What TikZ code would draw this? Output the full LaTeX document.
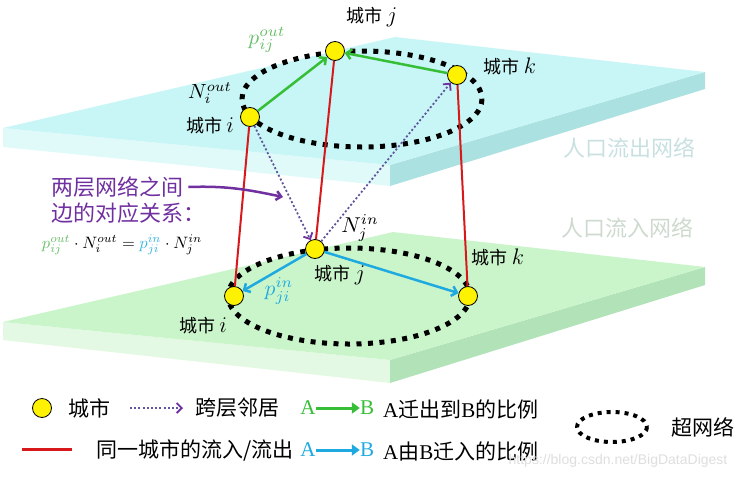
\RequirePackage{fix-cm}
\documentclass[tikz,border=0pt]{standalone}
\usepackage{fontspec}
\setmainfont{Liberation Serif}
\newfontfamily\cjk{Noto Sans CJK SC}
\newfontfamily\wm{Liberation Sans}
\usetikzlibrary{arrows.meta}
\newcommand{\mathlbl}[2]{\scalebox{#1}{$#2$}}
\definecolor{topc}{RGB}{200,246,246}
\definecolor{topside}{RGB}{172,225,225}
\definecolor{topfront}{RGB}{224,249,249}
\definecolor{botc}{RGB}{202,245,202}
\definecolor{botside}{RGB}{178,226,183}
\definecolor{botfront}{RGB}{228,249,228}
\definecolor{cityred}{RGB}{215,25,28}
\definecolor{outgreen}{RGB}{55,190,55}
\definecolor{inblue}{RGB}{30,170,225}
\definecolor{nbpurple}{RGB}{112,48,160}
\definecolor{nbline}{RGB}{95,85,155}
\definecolor{layertxt}{RGB}{200,224,224}
\definecolor{layertxtb}{RGB}{205,218,205}
\definecolor{fgreen}{RGB}{105,190,105}
\definecolor{fblue}{RGB}{55,180,225}
\tikzset{
  city/.style={circle, draw=black, line width=0.8pt, fill=yellow, minimum size=19pt, inner sep=0pt},
  hyper/.style={draw=black, line width=5pt, dash pattern=on 5pt off 6.5pt},
  same/.style={draw=cityred, line width=2pt},
  outarr/.style={draw=outgreen, line width=2.5pt, -{Straight Barb[length=5pt,width=10pt]}},
  inarr/.style={draw=inblue, line width=2.5pt, -{Straight Barb[length=5pt,width=10pt]}},
  nb/.style={draw=nbline, line width=1.8pt, dash pattern=on 2pt off 2.2pt, -{Straight Barb[color=nbpurple,length=5pt,width=10pt]}},
  lbl/.style={font=\cjk\fontsize{18}{20}\selectfont, inner sep=0pt},
  mlbl/.style={inner sep=0pt},
  layer/.style={font=\cjk\fontsize{22}{24}\selectfont, inner sep=0pt},
  ann/.style={font=\cjk\fontsize{22}{24}\selectfont, text=nbpurple, inner sep=0pt, anchor=west},
  leg/.style={font=\cjk\fontsize{21}{23}\selectfont, inner sep=0pt},
  legab/.style={font=\fontsize{21}{23}\selectfont, inner sep=0pt},
  legout/.style={draw=outgreen, line width=3pt, -{Triangle[length=8pt,width=11pt]}},
  legin/.style={draw=inblue, line width=3pt, -{Triangle[length=8pt,width=11pt]}},
}
\begin{document}
\begin{tikzpicture}[x=1pt,y=-1pt]
\useasboundingbox (0,0) rectangle (751,479);
% ---- bottom plane (population inflow)
\fill[botfront] (3,322) -- (390,360) -- (390,383) -- (3,340) -- cycle;
\fill[botside] (390,360) -- (705,267) -- (705,285) -- (390,383) -- cycle;
\fill[botc] (3,322) -- (393,232) -- (705,267) -- (390,360) -- cycle;
% ---- top plane (population outflow)
\fill[topfront] (3,128) -- (390,165) -- (390,186) -- (3,147) -- cycle;
\fill[topside] (390,165) -- (705,72) -- (705,89) -- (390,186) -- cycle;
\fill[topc] (3,128) -- (395,37) -- (705,72) -- (390,165) -- cycle;
% layer names
\node[layer, text=layertxt] (lout) at (629,148) {人口流出网络};
\node[layer, text=layertxtb] (lin) at (627,228) {人口流入网络};
% hypernetworks
\draw[hyper] (362,99) ellipse [x radius=120, y radius=48];
\draw[hyper] (349,296) ellipse [x radius=121, y radius=48];
% cities
\node[city] (ti) at (250,117) {};
\node[city] (tj) at (335,51) {};
\node[city] (tk) at (457,75) {};
\node[city] (bj) at (315,249) {};
\node[city] (bi) at (234,296) {};
\node[city] (bk) at (468,296) {};
% same-city links
\draw[same] (ti) -- (bi);
\draw[same] (tj) -- (bj);
\draw[same] (tk) -- (bk);
% cross-layer neighbours
\draw[nb] (ti) -- (bj);
\draw[nb] (bj) -- (tk);
% out / in ratios
\draw[outarr] (ti) -- (tj);
\draw[outarr] (tk) -- (tj);
\draw[inarr] (bj) -- (bi);
\draw[inarr] (bj) -- (bk);
% labels
\node[lbl] (ltj) at (372,17) {城市 \mathlbl{1.25}{j}};
\node[lbl] (lti) at (210,126) {城市 \mathlbl{1.25}{i}};
\node[lbl] (ltk) at (510,66) {城市 \mathlbl{1.25}{k}};
\node[lbl] (lbj) at (340,275) {城市 \mathlbl{1.25}{j}};
\node[lbl] (lbi) at (203,326) {城市 \mathlbl{1.25}{i}};
\node[lbl] (lbk) at (498,257) {城市 \mathlbl{1.25}{k}};
\node[mlbl, text=fgreen] (pout) at (267,40) {\mathlbl{2.15}{p_{ij}^{out}}};
\node[mlbl] (nout) at (210,93) {\mathlbl{2.05}{N_i^{out}}};
\node[mlbl] (nin) at (360,228) {\mathlbl{2.15}{N_j^{in}}};
\node[mlbl, text=inblue] (pin) at (279,291) {\mathlbl{2.15}{p_{ji}^{in}}};
% annotation
\node[ann] (ann1) at (51,187) {两层网络之间};
\node[ann] (ann2) at (51,213) {边的对应关系：};
\coordinate (annTip) at (283,197);
\draw[draw=nbpurple, line width=2.5pt, -{Straight Barb[length=5pt,width=9pt]}] (ann1.east) ++(5,0) to[out=2,in=168] (annTip);
\node[inner sep=0pt] (formula) at (122,245)
  {\mathlbl{1.65}{\textcolor{fgreen}{p_{ij}^{out}}\cdot N_i^{out}=\textcolor{fblue}{p_{ji}^{in}}\cdot N_j^{in}}};
% ---- legend
\node[city] (lgcity) at (42,408) {};
\node[leg] (lgcitytxt) at (89,408) {城市};
\coordinate (lgnbA) at (130,408);
\coordinate (lgnbB) at (183,408);
\draw[nb] (lgnbA) -- (lgnbB);
\node[leg] (lgnbtxt) at (237,408) {跨层邻居};
\node[legab, text=outgreen] (lgoA) at (308,408) {A};
\node[legab, text=outgreen] (lgoB) at (367,408) {B};
\draw[legout] (lgoA) -- (lgoB);
\node[leg, anchor=west] (lgotxt) at (383,409) {{\rmfamily A}迁出到{\rmfamily B}的比例};
\coordinate (lgrA) at (22,449);
\coordinate (lgrB) at (72,449);
\draw[same, line width=3pt] (lgrA) -- (lgrB);
\node[leg] (lgrtxt) at (195,450) {同一城市的流入/流出};
\node[legab, text=inblue] (lgiA) at (308,450) {A};
\node[legab, text=inblue] (lgiB) at (367,450) {B};
\draw[legin] (lgiA) -- (lgiB);
\node[leg, anchor=west] (lgitxt) at (383,451) {{\rmfamily A}由{\rmfamily B}迁入的比例};
\draw[draw=black, line width=4pt, dash pattern=on 4pt off 5pt] (612,427) ellipse [x radius=35, y radius=15];
\node[leg] (lghyper) at (703,427) {超网络};
\node[font=\wm\fontsize{14}{16}\selectfont, text=black!13, inner sep=0pt] (wmark) at (618,461) {https://blog.csdn.net/BigDataDigest};
\end{tikzpicture}
\end{document}
